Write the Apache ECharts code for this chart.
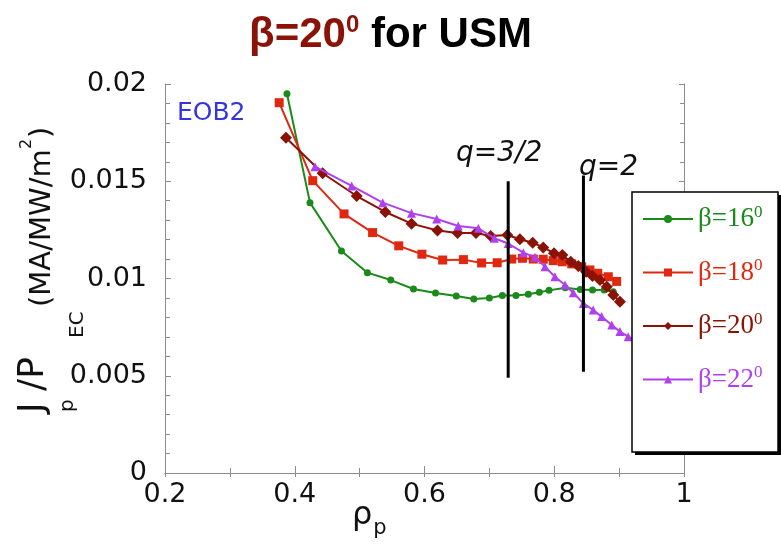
<!DOCTYPE html>
<html><head><meta charset="utf-8">
<script src="https://cdn.jsdelivr.net/npm/echarts@6/dist/echarts.min.js"></script>
<style>html,body{margin:0;padding:0;background:#fff}#c{width:781px;height:545px}</style>
</head><body><div id="c"></div>
<script>
// ---- data ----
const seriesNames = ['β=16', 'β=18', 'β=20', 'β=22'];
const rho16 = [0.388, 0.4235, 0.472, 0.512, 0.548, 0.583, 0.617, 0.649, 0.676, 0.700, 0.720, 0.741, 0.760, 0.777, 0.792, 0.817, 0.840, 0.859, 0.877, 0.891];
const j16   = [0.0195, 0.0139, 0.01141, 0.0103, 0.00992, 0.00946, 0.00925, 0.0091, 0.00895, 0.0090, 0.00913, 0.00913, 0.00919, 0.00929, 0.00939, 0.00953, 0.00944, 0.00941, 0.00941, 0.00932];
const rho18 = [0.376, 0.4277, 0.476, 0.520, 0.5603, 0.596, 0.628, 0.660, 0.688, 0.712, 0.7344, 0.751, 0.7677, 0.783, 0.7985, 0.8124, 0.8269, 0.8423, 0.855, 0.867, 0.8833, 0.8962];
const j18   = [0.01904, 0.01503, 0.01332, 0.01236, 0.01168, 0.01125, 0.01095, 0.01097, 0.0108, 0.01081, 0.0110, 0.01104, 0.0110, 0.01099, 0.01092, 0.01086, 0.01075, 0.01061, 0.01044, 0.01027, 0.01009, 0.00985];
const rho20 = [0.3865, 0.443, 0.4955, 0.5396, 0.580, 0.620, 0.651, 0.6794, 0.702, 0.7277, 0.747, 0.7668, 0.783, 0.7996, 0.8124, 0.8254, 0.837, 0.849, 0.859, 0.8705, 0.881, 0.891, 0.9013];
const j20   = [0.01724, 0.01541, 0.01424, 0.01342, 0.01282, 0.01247, 0.01234, 0.01234, 0.01219, 0.01224, 0.01202, 0.01184, 0.0116, 0.0113, 0.01121, 0.01086, 0.01064, 0.01035, 0.01013, 0.00992, 0.00958, 0.00915, 0.00881];
const rho22 = [0.4312, 0.4878, 0.5356, 0.580, 0.6188, 0.652, 0.683, 0.7076, 0.729, 0.7523, 0.7703, 0.7857, 0.801, 0.8166, 0.8294, 0.8448, 0.860, 0.873, 0.8886, 0.9013, 0.914, 0.927];
const j22   = [0.01575, 0.01476, 0.0139, 0.01336, 0.01306, 0.0127, 0.01258, 0.01207, 0.0118, 0.01133, 0.01109, 0.01061, 0.01009, 0.00967, 0.00927, 0.00872, 0.00838, 0.00804, 0.00761, 0.00727, 0.00701, 0.0068];
const qNames = ['q=3/2', 'q=2'];
const qRho   = [0.729, 0.845];
const qLow   = [0.0049, 0.0052];
const qHigh  = [0.0150, 0.0153];
const xTicks = [0.2, 0.4, 0.6, 0.8, 1];
const yTicks = [0, 0.005, 0.01, 0.015, 0.02];

const colors = ['#1a8a1a', '#e02810', '#8a1206', '#b040ee'];
const symbols = ['circle', 'rect', 'diamond', 'triangle'];
const symSizes = [7, 9, 12, 9];
const xs = [rho16, rho18, rho20, rho22];
const ys = [j16, j18, j20, j22];

const chart = echarts.init(document.getElementById('c'), null, {renderer: 'canvas'});
const axisGray = '#8c8c8c';
const tickFont = 'DejaVu Sans';

const series = seriesNames.map((n, i) => ({
  name: n, type: 'line', data: xs[i].map((x, k) => [x, ys[i][k]]),
  symbol: symbols[i], symbolSize: symSizes[i], showSymbol: true,
  lineStyle: {color: colors[i], width: 2}, itemStyle: {color: colors[i]},
  z: 2 + i
}));
qNames.forEach((n, i) => {
  series.push({
    name: n, type: 'line', symbol: 'circle', symbolSize: 0,
    data: [[qRho[i], qLow[i]], {value: [qRho[i], qHigh[i]], label: {show: true}}],
    lineStyle: {color: '#000', width: 3}, itemStyle: {color: '#000'},
    label: {show: false, formatter: n, position: 'top', distance: 2,
      offset: i === 0 ? [-9, -12] : [25, 8],
      fontFamily: 'DejaVu Sans', fontStyle: 'italic', fontSize: 28, color: '#111'},
    z: 10
  });
});

const legendData = seriesNames.map((n, i) => ({
  name: n,
  textStyle: {color: colors[i], rich: {
    b: {fontFamily: 'Liberation Serif', fontSize: 27, color: colors[i], lineHeight: 30},
    s: {fontFamily: 'Liberation Serif', fontSize: 17, color: colors[i], lineHeight: 30, verticalAlign: 'top', padding: [0,0,12,0]}
  }}
}));

const fmt = v => String(+v.toFixed(4));
const yName = (txt, x, y, size) => ({type: 'text', x: x, y: y, rotation: Math.PI / 2, z: 5,
  style: {text: txt, fontFamily: 'DejaVu Sans', fontSize: size, fill: '#111', align: 'left', verticalAlign: 'bottom'}});

chart.setOption({
  animation: false,
  title: {
    text: '{r|β=20}{rs|0}{k| for USM}', left: 'center', top: 6,
    textStyle: {rich: {
      r: {fontFamily: 'Liberation Sans', fontWeight: 'bold', fontSize: 42, color: '#8a1206', lineHeight: 48},
      rs: {fontFamily: 'Liberation Sans', fontWeight: 'bold', fontSize: 24, color: '#8a1206', lineHeight: 48, padding: [0,0,20,0]},
      k: {fontFamily: 'Liberation Sans', fontWeight: 'bold', fontSize: 42, color: '#000', lineHeight: 48}
    }}
  },
  grid: {left: 165, top: 84, right: 97, bottom: 72, outerBoundsMode: 'none', containLabel: false},
  legend: {
    orient: 'vertical', left: 642, top: 204,
    data: legendData, itemWidth: 50, itemHeight: 10, itemGap: 24.5,
    padding: 0,
    formatter: n => '{b|' + n + '}{s|0}',
    selectedMode: false, z: 20
  },
  xAxis: [{
    type: 'value', min: 0.2, max: 1, interval: 0.2,
    axisLine: {lineStyle: {color: axisGray, width: 1}},
    axisTick: {inside: true, length: 7, lineStyle: {color: axisGray}},
    minorTick: {show: true, splitNumber: 2, length: 5, lineStyle: {color: axisGray}},
    splitLine: {show: false},
    axisLabel: {formatter: fmt, fontFamily: tickFont, fontSize: 27, color: '#111', margin: 8}
  }, {
    type: 'value', position: 'top', min: 0.2, max: 1, interval: 0.1,
    axisLine: {show: true, lineStyle: {color: axisGray, width: 1}},
    axisTick: {inside: true, length: 4, lineStyle: {color: axisGray}},
    axisLabel: {show: false}, splitLine: {show: false}
  }],
  yAxis: [{
    type: 'value', min: 0, max: 0.02, interval: 0.005,
    axisLine: {show: true, lineStyle: {color: axisGray, width: 1}},
    axisTick: {inside: true, length: 6, lineStyle: {color: axisGray}},
    minorTick: {show: true, splitNumber: 5, length: 5, lineStyle: {color: axisGray}},
    splitLine: {show: false},
    axisLabel: {formatter: fmt, fontFamily: tickFont, fontSize: 27, color: '#111', margin: 18}
  }, {
    type: 'value', position: 'right', min: 0, max: 0.02, interval: 0.005,
    axisLine: {show: true, lineStyle: {color: axisGray, width: 1}},
    axisTick: {inside: true, length: 5, lineStyle: {color: axisGray}},
    minorTick: {show: true, splitNumber: 5, length: 4, lineStyle: {color: axisGray}},
    axisLabel: {show: false}, splitLine: {show: false}
  }],
  graphic: [
    // legend frame with drop shadow
    {type: 'rect', shape: {x: 635, y: 195, width: 146, height: 260}, style: {fill: '#000'}, z: 15, silent: true},
    {type: 'rect', shape: {x: 632, y: 192, width: 146, height: 260}, style: {fill: '#fff', stroke: '#000', lineWidth: 1.5}, z: 16, silent: true},
    {type: 'text', left: 177, top: 101, z: 5,
     style: {text: 'EOB2', fontFamily: 'DejaVu Sans', fontSize: 25, fill: '#3434e0'}},
    {type: 'text', left: 352, top: 492, z: 5,
     style: {text: '{a|ρ}{b|p}', rich: {
       a: {fontFamily: 'DejaVu Sans', fontSize: 32, fill: '#111', lineHeight: 36},
       b: {fontFamily: 'DejaVu Sans', fontSize: 21, fill: '#111', lineHeight: 36, padding: [26, 0, 0, 1]}
     }}},
    yName('J', 52, 413, 36),
    yName('/P', 52, 391, 36),
    yName('p', 78, 412, 20),
    yName('EC', 88, 338, 20),
    yName('(MA/MW/m', 57, 307, 29),
    yName('2', 35, 149, 16),
    yName(')', 57, 138, 29)
  ],
  series: series
});
</script></body></html>
